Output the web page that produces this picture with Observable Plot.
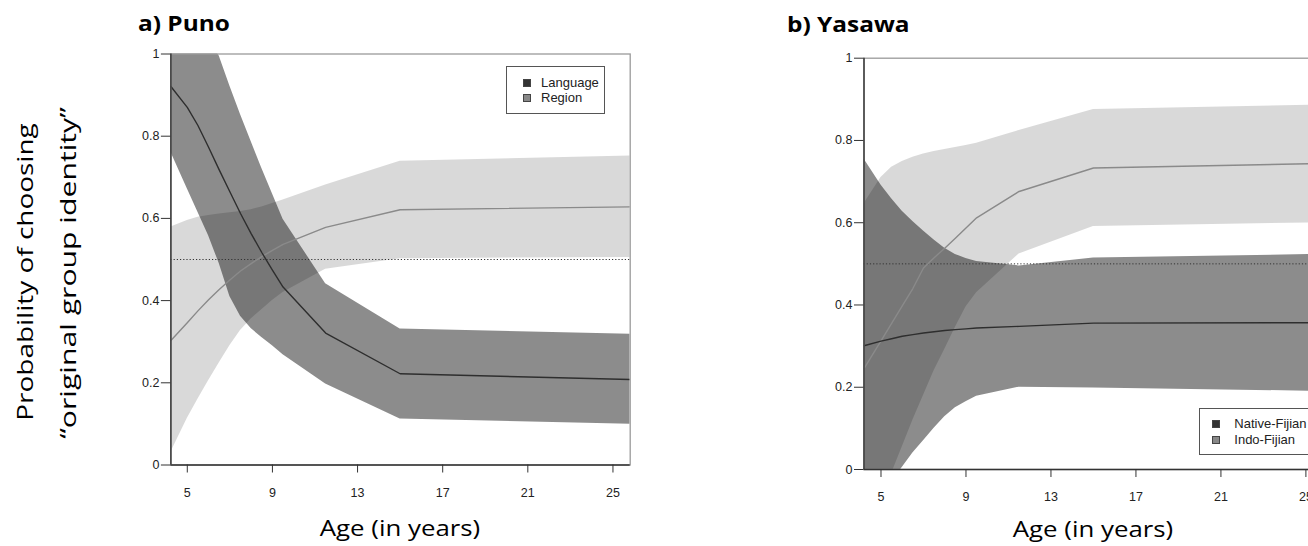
<!DOCTYPE html>
<html>
<head>
<meta charset="utf-8">
<script src="https://cdn.jsdelivr.net/npm/d3@7"></script>
<script src="https://cdn.jsdelivr.net/npm/@observablehq/plot@0.6"></script>
<style>
  html, body { margin: 0; padding: 0; overflow: hidden; background: #fff; }
  #root { position: relative; width: 1308px; height: 546px; overflow: hidden; background: #fff; }
  .abs { position: absolute; white-space: nowrap; line-height: 1; }
  .title { font-family: "Open Sans", sans-serif; font-weight: 700; font-size: 22px; color: #000; transform-origin: 0 50%; }
  .xlab { font-family: "Open Sans", sans-serif; font-size: 21px; color: #000; }
  .ylab { font-family: "Open Sans", sans-serif; font-size: 21px; color: #000; }
  .legend { position: absolute; box-sizing: border-box; border: 1px solid #555; background: #fff; }
  .legend .sw { position: absolute; width: 8px; height: 8px; box-sizing: border-box; border: 1px solid #444; }
  .legend .lt { position: absolute; font-family: "Liberation Sans", Arial, sans-serif; font-size: 13px; color: #222; line-height: 1; }
  svg { max-width: none !important; }
</style>
</head>
<body>
<div id="root"></div>
<script>
// ---------------- data ----------------
const xTicks = [5, 9, 13, 17, 21, 25];
const yTicks = [0, 0.2, 0.4, 0.6, 0.8, 1];
const chanceLevel = [0.5];

// a) Puno
const punoTitle = "a) Puno";
const punoSeries = ["Language", "Region"];
const punoAges   = [4.23, 5, 5.5, 6, 6.5, 7, 7.5, 8, 8.5, 9, 9.5, 11.5, 15, 25.81];
const langMean   = [0.921, 0.870, 0.826, 0.773, 0.718, 0.665, 0.612, 0.563, 0.517, 0.474, 0.433, 0.321, 0.222, 0.208];
const langHi     = [1.12, 1.10, 1.07, 1.035, 0.995, 0.922, 0.853, 0.787, 0.722, 0.660, 0.598, 0.441, 0.331, 0.318];
const langLo     = [0.761, 0.672, 0.615, 0.558, 0.490, 0.410, 0.362, 0.332, 0.310, 0.290, 0.268, 0.197, 0.112, 0.099];
const regMean    = [0.303, 0.346, 0.375, 0.402, 0.427, 0.450, 0.472, 0.490, 0.507, 0.522, 0.537, 0.578, 0.621, 0.628];
const regHi      = [0.579, 0.595, 0.603, 0.607, 0.611, 0.614, 0.617, 0.621, 0.628, 0.636, 0.645, 0.681, 0.739, 0.752];
const regLo      = [0.031, 0.113, 0.160, 0.205, 0.248, 0.290, 0.327, 0.355, 0.378, 0.400, 0.420, 0.476, 0.502, 0.505];

// b) Yasawa
const yasawaTitle = "b) Yasawa";
const yasawaSeries = ["Native-Fijian", "Indo-Fijian"];
const yasawaAges = [4.2, 5, 5.5, 6, 6.5, 7, 7.5, 8, 8.5, 9, 9.5, 11.5, 15, 25.8];
const natMean    = [0.301, 0.312, 0.318, 0.324, 0.328, 0.332, 0.335, 0.338, 0.340, 0.342, 0.344, 0.348, 0.356, 0.357];
const natHi      = [0.755, 0.692, 0.658, 0.628, 0.603, 0.580, 0.558, 0.538, 0.523, 0.513, 0.506, 0.495, 0.514, 0.523];
const natLo      = [-0.12, -0.07, -0.03, 0.005, 0.040, 0.070, 0.100, 0.128, 0.150, 0.165, 0.178, 0.200, 0.198, 0.190];
const indoMean   = [0.245, 0.313, 0.355, 0.398, 0.440, 0.490, 0.515, 0.538, 0.562, 0.587, 0.612, 0.676, 0.733, 0.744];
const indoHi     = [0.646, 0.710, 0.735, 0.749, 0.759, 0.767, 0.773, 0.778, 0.783, 0.788, 0.793, 0.824, 0.875, 0.886];
const indoLo     = [-0.30, -0.10, -0.01, 0.055, 0.120, 0.180, 0.240, 0.292, 0.345, 0.395, 0.430, 0.524, 0.591, 0.600];

const axisTitleX = "Age (in years)";
const axisTitleY = ["Probability of choosing", "\u201Coriginal group identity\u201D"];

// ---------------- drawing ----------------
const root = document.getElementById("root");

function rows(ages, mean, lo, hi) {
  return ages.map((a, i) => ({age: a, mean: mean[i], lo: lo[i], hi: hi[i]}));
}

function panel(cfg) {
  const [s1, s2] = cfg.series;
  const ages = cfg.ages;
  const domain = d3.extent(ages);
  return Plot.plot({
    width: cfg.width,
    height: cfg.height,
    marginLeft: cfg.ml, marginRight: cfg.mr, marginTop: cfg.mt, marginBottom: cfg.mb,
    style: {fontFamily: "'Liberation Sans', Arial, sans-serif", fontSize: "12.5px", color: "#222", background: "transparent", overflow: "visible"},
    x: {domain, label: null},
    y: {domain: [0, 1], label: null},
    marks: [
      // confidence bands
      Plot.areaY(s2, {x: "age", y1: "lo", y2: "hi", fill: "#000", fillOpacity: 0.15, clip: true}),
      Plot.areaY(s1, {x: "age", y1: "lo", y2: "hi", fill: "#000", fillOpacity: 0.45, clip: true}),
      // chance level
      Plot.ruleY(chanceLevel, {stroke: "#333", strokeWidth: 1, strokeDasharray: "1.2,2"}),
      // mean lines
      Plot.line(s2, {x: "age", y: "mean", stroke: "#8a8a8a", strokeWidth: 1.4, clip: true}),
      Plot.line(s1, {x: "age", y: "mean", stroke: "#2e2e2e", strokeWidth: 1.4, clip: true}),
      // box
      Plot.frame({stroke: "#9a9a9a", strokeWidth: 1.3}),
      Plot.ruleX([domain[0]], {stroke: "#333", strokeWidth: 1.4}),
      Plot.ruleY([0], {stroke: "#333", strokeWidth: 1.4}),
      // axes
      Plot.axisY({ticks: yTicks, tickFormat: d => String(d), tickSize: 9.5, tickPadding: 2, stroke: "#333", fill: "#222", label: null}),
      Plot.axisX({ticks: xTicks, tickFormat: d => String(d), tickSize: 8, tickPadding: 15, stroke: "#333", fill: "#222", label: null})
    ]
  });
}

function place(el, left, top, w, h) {
  const d = document.createElement("div");
  d.style.position = "absolute";
  d.style.left = left + "px";
  d.style.top = top + "px";
  d.style.width = w + "px";
  d.style.height = h + "px";
  el.style.maxWidth = "none";
  el.style.width = w + "px";
  el.style.height = h + "px";
  d.appendChild(el);
  root.appendChild(d);
  return d;
}

const punoRows1 = rows(punoAges, langMean, langLo, langHi);
const punoRows2 = rows(punoAges, regMean, regLo, regHi);
const yasRows1 = rows(yasawaAges, natMean, natLo, natHi);
const yasRows2 = rows(yasawaAges, indoMean, indoLo, indoHi);

place(panel({ages: punoAges, series: [punoRows1, punoRows2], width: 650, height: 520, ml: 170.4, mr: 20.3, mt: 53.5, mb: 55.5}), 0, 0, 650, 520);
place(panel({ages: yasawaAges, series: [yasRows1, yasRows2], width: 660, height: 520, ml: 163.5, mr: 37.6, mt: 57.7, mb: 51}), 700, 0, 660, 520);

// text helpers
function addText(cls, txt, left, top) {
  const e = document.createElement("div");
  e.className = "abs " + cls;
  e.textContent = txt;
  e.style.left = left + "px";
  e.style.top = top + "px";
  root.appendChild(e);
  return e;
}

// titles
const tA = addText("title", punoTitle, 138.3, 11);
tA.style.transform = `scaleX(${92 / tA.offsetWidth})`;
const tB = addText("title", yasawaTitle, 787.3, 12);
tB.style.transform = `scaleX(${122 / tB.offsetWidth})`;

// x axis titles
[[400, 518], [1092.7, 519]].forEach(([cx, top]) => {
  const e = addText("xlab", axisTitleX, cx, top);
  e.style.transformOrigin = "0 0";
  e.style.transform = `scaleX(${161 / e.offsetWidth}) translateX(-50%)`;
});

// y axis title (two rotated lines)
[[axisTitleY[0], 25, 272, 298], [axisTitleY[1], 68, 273, 332]].forEach(([txt, cx, cy, len]) => {
  const e = addText("ylab", txt, cx, cy);
  e.style.transformOrigin = "0 0";
  e.style.transform = `rotate(-90deg) scaleX(${len / e.offsetWidth}) translate(-50%, -50%)`;
});

// legends
function legend(names, colors, left, top, w, h, swX, txtX, rowsY) {
  const box = document.createElement("div");
  box.className = "legend";
  box.style.left = left + "px"; box.style.top = top + "px";
  box.style.width = w + "px"; box.style.height = h + "px";
  names.forEach((n, i) => {
    const sw = document.createElement("div");
    sw.className = "sw";
    sw.style.background = colors[i];
    sw.style.left = swX + "px";
    sw.style.top = (rowsY[i] - 4) + "px";
    box.appendChild(sw);
    const t = document.createElement("div");
    t.className = "lt";
    t.textContent = n;
    t.style.left = txtX + "px";
    t.style.top = (rowsY[i] - 7) + "px";
    box.appendChild(t);
  });
  root.appendChild(box);
}
legend(punoSeries, ["#333", "#888"], 506, 66, 99, 48, 16, 34, [16.3, 31.3]);
legend(yasawaSeries, ["#333", "#888"], 1199.3, 408.3, 140, 47, 12, 34, [15, 31]);
</script>
</body>
</html>
